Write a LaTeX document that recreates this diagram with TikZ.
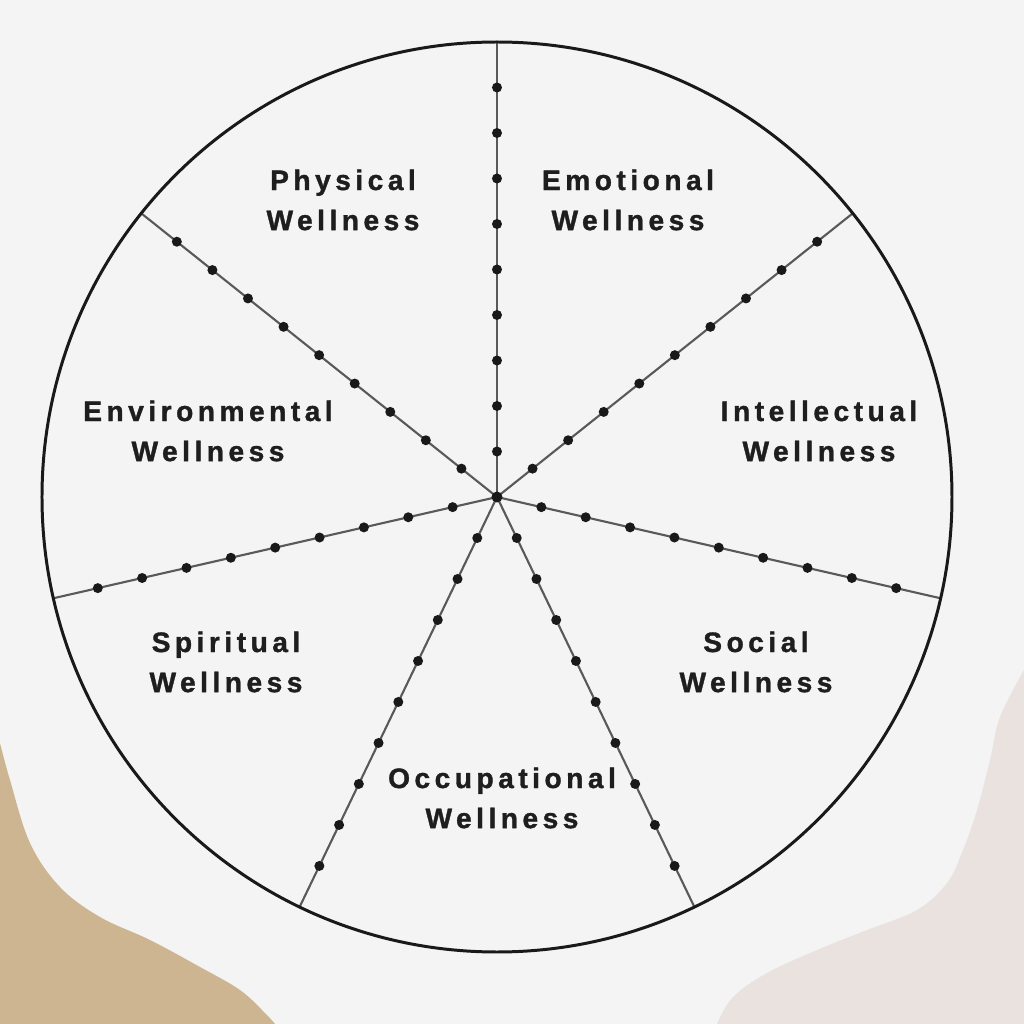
\documentclass[tikz,border=0pt]{standalone}
\usepackage{fontspec}
\newfontfamily\wellfont{Liberation Sans}[LetterSpace=16,BoldFeatures={FakeBold=1.2}]
\usetikzlibrary{calc}
\definecolor{bgcol}{RGB}{244,244,244}
\definecolor{tancol}{RGB}{206,181,146}
\definecolor{rosecol}{RGB}{234,226,223}
\definecolor{inkcol}{RGB}{30,30,30}

\begin{document}
\begin{tikzpicture}[x=0.01cm,y=0.01cm,
    spoke/.style={draw=black!65,line width=0.6pt},
    bead/.style={fill=black!90},
    areatext/.style={align=center,text=inkcol,inner sep=0pt,
      font=\wellfont\bfseries\fontsize{8}{11.4}\selectfont}]
        \fill[bgcol] (-497,-527) rectangle (527,497);
        \useasboundingbox (-497,-527) rectangle (527,497);

        \fill[tancol] plot[smooth,tension=0.6] coordinates {(-497,-246) (-487,-283) (-467,-346)
            (-437,-390) (-397,-420) (-347,-443) (-297,-470) (-257,-493) (-232,-516) (-222,-527)}
            -- (-497,-527) -- cycle;
        \fill[rosecol] plot[smooth,tension=0.6] coordinates {(527,-173) (503,-220) (493,-263)
            (480,-313) (466,-353) (450,-386) (420,-413) (370,-433) (320,-453) (270,-476)
            (236,-500) (220,-527)} -- (527,-527) -- cycle;

        \coordinate (O) at (0,0);
        \coordinate (R1) at (90:455);
        \coordinate (R2) at (38.57:455);
        \coordinate (R3) at (-12.86:455);
        \coordinate (R4) at (-64.29:455);
        \coordinate (R5) at (-115.71:455);
        \coordinate (R6) at (-167.14:455);
        \coordinate (R7) at (141.43:455);

        \foreach \rim in {R1,R2,R3,R4,R5,R6,R7} {
            \draw[spoke] (O) -- (\rim);
            \foreach \k in {1,...,9}
                \fill[bead] ($(O)!\k/10!(\rim)$) circle[radius=5];
        }
        \fill[bead] (O) circle[radius=5.5];
        \draw[line width=0.85pt,black!90] (O) circle[radius=455];

        \node[areatext] (physical) at (-154,297) {Physical\\Wellness};
        \node[areatext] (emotional) at (131,297) {Emotional\\Wellness};
        \node[areatext] (intellectual) at (322,66) {Intellectual\\Wellness};
        \node[areatext] (social) at (259,-165) {Social\\Wellness};
        \node[areatext] (occupational) at (5,-301) {Occupational\\Wellness};
        \node[areatext] (spiritual) at (-271,-165) {Spiritual\\Wellness};
        \node[areatext] (environmental) at (-289,66) {Environmental\\Wellness};
\end{tikzpicture}
\end{document}
